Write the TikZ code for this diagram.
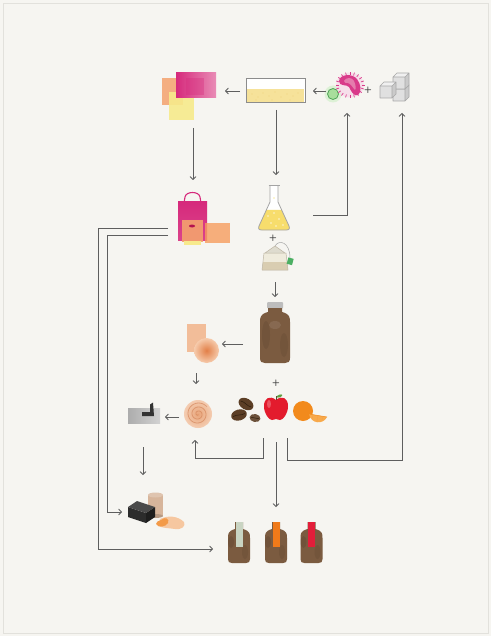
\documentclass[tikz,border=0pt]{standalone}
\usetikzlibrary{arrows.meta,calc}
\definecolor{paper}{HTML}{F6F5F1}
\definecolor{frame}{HTML}{E2E1DC}
\definecolor{linegray}{HTML}{5E5E5E}
\definecolor{plusgray}{HTML}{3E3E3E}
\definecolor{pinkA}{HTML}{D62A7C}
\definecolor{pinkB}{HTML}{E98CB6}
\definecolor{pinkdeep}{HTML}{B3124F}
\definecolor{peach}{HTML}{F4A26E}
\definecolor{lemon}{HTML}{F7EA8C}
\definecolor{dishedge}{HTML}{8C8C8C}
\definecolor{dishfill}{HTML}{F6E29A}
\definecolor{cellgreen}{HTML}{A8DE9C}
\definecolor{cellline}{HTML}{4FA557}
\definecolor{cellglow}{HTML}{CDEFC5}
\definecolor{bact}{HTML}{D93A8A}
\definecolor{cubeF}{HTML}{E0E0E0}
\definecolor{cubeT}{HTML}{F0F0F0}
\definecolor{cubeS}{HTML}{CACACA}
\definecolor{cubeE}{HTML}{A8A8A8}
\definecolor{flaskedge}{HTML}{A4A4A4}
\definecolor{flaskyellow}{HTML}{F7DD6C}
\definecolor{teacloth}{HTML}{EFEBDC}
\definecolor{teatan}{HTML}{D9CDB1}
\definecolor{teaedge}{HTML}{BDB5A3}
\definecolor{teagreen}{HTML}{4CAF63}
\definecolor{capgray}{HTML}{BDBDBD}
\definecolor{brewbrown}{HTML}{7B5B40}
\definecolor{brewdark}{HTML}{5E4430}
\definecolor{scobysq}{HTML}{F2B790}
\definecolor{scobyin}{HTML}{E27F48}
\definecolor{scobyout}{HTML}{F6CBAC}
\definecolor{rollin}{HTML}{E9A57A}
\definecolor{rollout}{HTML}{F4CDB2}
\definecolor{rollline}{HTML}{D07E52}
\definecolor{bean}{HTML}{5C3E25}
\definecolor{beandark}{HTML}{33210F}
\definecolor{applered}{HTML}{E31B2D}
\definecolor{leafgreen}{HTML}{5FA043}
\definecolor{orangefruit}{HTML}{F28A1C}
\definecolor{orangeslice}{HTML}{F8AA4C}
\definecolor{boxtop}{HTML}{4A4A4A}
\definecolor{boxfront}{HTML}{2C2C2C}
\definecolor{boxside}{HTML}{1E1E1E}
\definecolor{tube}{HTML}{D7B59B}
\definecolor{sheetpeach}{HTML}{F6C7A0}
\definecolor{sheetorange}{HTML}{F39A48}
\definecolor{labelpale}{HTML}{C9D4C2}
\definecolor{labelorange}{HTML}{F07A1A}
\definecolor{labelred}{HTML}{E31E3A}

\tikzset{
  sugarcube/.pic={
    \fill[cubeF] (0,0) rectangle (12,12);
    \fill[cubeT] (0,0) -- (4,-4) -- (16,-4) -- (12,0) -- cycle;
    \fill[cubeS] (12,0) -- (16,-4) -- (16,8) -- (12,12) -- cycle;
    \draw[cubeE, line width=.6pt, line join=round]
      (0,0) rectangle (12,12) (0,0) -- (4,-4) -- (16,-4) -- (16,8) -- (12,12) (12,0) -- (16,-4);
  },
  jar/.pic={
    \fill[brewbrown] (-4,0) -- (4,0) -- (4,7) .. controls (11,9) and (11,12) .. (11,16)
      -- (11,37) .. controls (11,40) and (10,41) .. (7,41) -- (-7,41)
      .. controls (-10,41) and (-11,40) .. (-11,37) -- (-11,16)
      .. controls (-11,12) and (-11,9) .. (-4,7) -- cycle;
    \fill[brewdark, opacity=.35] (-8,20) ellipse (3 and 6);
    \fill[brewdark, opacity=.25] (6,30) ellipse (3 and 7);
    \fill[#1] (-3.5,0) rectangle (3.5,25);
  }
}

\begin{document}
\begin{tikzpicture}[x=1pt,y=-1pt,
  zone/.style 2 args={rectangle,draw=none,inner sep=0pt,outer sep=0pt,
    minimum width=#1pt,minimum height=#2pt},
  conn/.style={draw=linegray,line width=0.85pt,line join=miter,
    -{Straight Barb[length=2.8pt,width=6pt]}},
  plus/.style={text=plusgray,font=\sffamily\bfseries\small,inner sep=0pt}]

% sheet and frame
\fill[paper] (0,0) rectangle (491,636);
\draw[frame, line width=0.8pt] (3,3) rectangle (488,633);
\useasboundingbox (0,0) rectangle (491,636);

% ---------- zones around each icon ----------
\node[zone={54}{47}] (rects) at (189,96.5) {};
\node[zone={59}{24}] (petri) at (275.5,91) {};
\node[zone={12}{12}] (cell) at (333,94) {};
\node[zone={28}{26}] (bact) at (350,85) {};
\node[zone={30}{30}] (sugar) at (395,89) {};
\node[zone={52}{52}] (bag) at (204,219) {};
\node[zone={32}{45}] (flask) at (274,207.5) {};
\node[zone={30}{26}] (teabag) at (275,258) {};
\node[zone={30}{61}] (bottle) at (275,332.5) {};
\node[zone={32}{39}] (scoby) at (203,343.5) {};
\node[zone={28}{28}] (roll) at (198,414) {};
\node[zone={32}{21}] (sheet) at (144,412.5) {};
\node[zone={90}{28}] (fruits) at (276,409) {};
\node[zone={55}{37}] (kit) at (155.5,511.5) {};
\node[zone={94}{41}] (bottles) at (275,542.5) {};

% ---------- coloured sheets ----------
\fill[peach, opacity=.85] (162,78) rectangle (183,105);
\fill[lemon, opacity=.9] (169,92) rectangle (194,120);
\shade[left color=pinkA, right color=pinkB] (176,73) rectangle (216,98);
\fill[pinkA, opacity=.35] (186,78) rectangle (204,95);

% ---------- petri dish ----------
\fill[white] (246,79) rectangle (305,103);
\fill[dishfill] (247,89) rectangle (304,102);
\foreach \px/\py in {252/94,258/97,263/93,269/96,275/92,281/97,287/94,293/96,298/93,256/100,272/100,290/100}
  \fill[flaskyellow!70!brown, opacity=.5] (\px,\py) circle (0.7);
\draw[dishedge, line width=1pt] (246,79) rectangle (305,103);

% ---------- cell ----------
\fill[cellglow, opacity=.6] (333,94) circle (8.5);
\fill[cellgreen] (333,94) circle (5.5);
\draw[cellline, line width=0.8pt] (333,94) circle (5.5);

% ---------- bacterium ----------
\begin{scope}[shift={(350,85)}]
  \fill[bact!20, opacity=.7] (0,0) ellipse (14 and 12.5);
  \foreach \a in {0,18,...,342}
    \draw[bact, line width=.7pt] (\a:11.5 and 10) -- (\a:14.5 and 13);
  \fill[bact] (-11,-4) .. controls (-10,-11) and (2,-12) .. (7,-6)
    .. controls (11,-1) and (12,7) .. (8,10)
    .. controls (4,12) and (1,6) .. (-1,2)
    .. controls (-3,-1) and (-11,2) .. (-11,-4) -- cycle;
  \fill[pinkB, opacity=.8] (-6,-4) .. controls (-4,-8) and (2,-8) .. (4,-4)
    .. controls (6,0) and (6,4) .. (5,5) .. controls (3,3) and (1,-1) .. (-2,-2)
    .. controls (-4,-2) and (-6,-2) .. (-6,-4) -- cycle;
\end{scope}
\node[plus] (plusA) at (368,90) {+};

% ---------- sugar cubes ----------
\pic at (393,89) {sugarcube};
\pic at (393,77) {sugarcube};
\pic at (380,86) {sugarcube};

% ---------- bag ----------
\draw[pinkA, line width=1.1pt] (184,203) -- (185,197) .. controls (186,191) and (199,191) .. (200,197) -- (201,203);
\shade[top color=pinkA, bottom color=pinkA!75!pinkB] (178,202) rectangle (207,240);
\fill[peach, opacity=.9] (182,220) rectangle (203,242);
\fill[pinkdeep] (192,226) ellipse (3 and 1.5);
\fill[peach!85!orange, opacity=.8] (205,223) rectangle (230,243);
\fill[lemon] (184,241) rectangle (201,245);

% ---------- flask ----------
\fill[white] (270,186) -- (270,202) -- (259,226) .. controls (258,229) and (259,230) .. (262,230)
  -- (286,230) .. controls (289,230) and (290,229) .. (289,226) -- (278,202) -- (278,186) -- cycle;
\fill[flaskyellow] (266.3,210) -- (281.7,210) -- (289,226) .. controls (290,229) and (289,230) .. (286,230)
  -- (262,230) .. controls (259,230) and (258,229) .. (259,226) -- cycle;
\foreach \px/\py in {268/216,274/213,279/219,271/223,283/225,276/226}
  \fill[white, opacity=.7] (\px,\py) circle (0.8);
\fill[flaskyellow!60] (274,198) circle (0.8);
\draw[flaskedge, line width=.8pt, line join=round] (270,186) -- (270,202) -- (259,226)
  .. controls (258,229) and (259,230) .. (262,230) -- (286,230)
  .. controls (289,230) and (290,229) .. (289,226) -- (278,202) -- (278,186);
\draw[flaskedge, line width=.8pt] (268.5,185.5) -- (279.5,185.5);
\node[plus] (plusB) at (273,238) {+};

% ---------- tea bag ----------
\draw[gray!70, line width=.5pt] (275,246) .. controls (279,239) and (290,242) .. (290,258);
\fill[teacloth] (264,253) -- (286,253) -- (288,270) -- (262,270) -- cycle;
\fill[teatan] (263.1,262) -- (286.9,262) -- (288,270) -- (262,270) -- cycle;
\fill[teacloth!85!gray] (265,253) -- (275,246) -- (285,253) -- cycle;
\draw[teaedge, line width=.5pt, line join=round] (264,253) -- (286,253) -- (288,270) -- (262,270) -- cycle
  (265,253) -- (275,246) -- (285,253);
\fill[teagreen, rotate around={-15:(290,261)}] (287.5,258) rectangle (293,264.5);

% ---------- brew bottle ----------
\fill[capgray, rounded corners=1pt] (267,302) rectangle (283,308.5);
\fill[brewbrown] (268,308) -- (282,308) -- (282,312) .. controls (290,314) and (290,318) .. (290,322)
  -- (290,358) .. controls (290,362) and (288,363) .. (285,363) -- (265,363)
  .. controls (262,363) and (260,362) .. (260,358) -- (260,322)
  .. controls (260,318) and (260,314) .. (268,312) -- cycle;
\fill[brewdark, opacity=.3] (266,335) ellipse (4 and 14);
\fill[brewdark, opacity=.25] (284,345) ellipse (4 and 12);
\fill[brewbrown!70!white, opacity=.3] (275,325) ellipse (6 and 4);

% ---------- scoby layer ----------
\fill[scobysq, opacity=.9] (187,324) rectangle (206,352);
\shade[inner color=scobyin, outer color=scobyout] (206.5,350.5) circle (12.5);

% ---------- rolled scoby ----------
\shade[inner color=rollin, outer color=rollout] (198,414) circle (14);
\draw[rollline, line width=.8pt, opacity=.6, variable=\t, domain=60:1040, samples=140, smooth]
  plot ({198+\t/1040*11.5*cos(\t)}, {414+\t/1040*11.5*sin(\t)});

% ---------- pressing tool ----------
\shade[left color=gray!65, right color=gray!35] (128,408) rectangle (160,423);
\fill[black!80] (142,412) -- (150,412) -- (150,404.5) -- (153,402.5) -- (154,416) -- (142,416) -- cycle;

% ---------- fruits and beans ----------
\node[plus] (plusC) at (276,383) {+};
\begin{scope}[shift={(246,404)}, rotate=-30]
  \fill[bean] (0,0) ellipse (8 and 5.5);
  \draw[beandark, line width=.6pt] (-6,0) .. controls (-2,-1.5) and (2,1.5) .. (6,0);
\end{scope}
\begin{scope}[shift={(239,415)}, rotate=15]
  \fill[bean] (0,0) ellipse (8 and 5.5);
  \draw[beandark, line width=.6pt] (-6,0) .. controls (-2,-1.5) and (2,1.5) .. (6,0);
\end{scope}
\begin{scope}[shift={(255,418)}, rotate=-10]
  \fill[bean!90!white] (0,0) ellipse (5.5 and 4);
  \draw[beandark, line width=.5pt] (-4,0) .. controls (-1,-1) and (1,1) .. (4,0);
\end{scope}
% apple
\fill[applered] (276,400) .. controls (270,395) and (264,398) .. (264,406)
  .. controls (264,414) and (269,420) .. (272,420) .. controls (274,420) and (275,419) .. (276,419)
  .. controls (277,419) and (278,420) .. (280,420) .. controls (283,420) and (288,414) .. (288,406)
  .. controls (288,398) and (282,395) .. (276,400) -- cycle;
\fill[white, opacity=.25] (269,404) ellipse (2 and 4);
\draw[brewdark, line width=.7pt] (276,400) -- (276,396);
\fill[leafgreen, rotate around={20:(279.5,396)}] (279.5,396) ellipse (3 and 1.3);
% orange
\fill[orangefruit] (303,411) circle (10);
\fill[orangeslice] (309,414) .. controls (311,424) and (323,425) .. (327,417) -- cycle;
\draw[orangefruit, line width=.5pt] (309,414) -- (327,417);
\draw[orangefruit!80!white, line width=.4pt] (318,415.5) -- (317,421) (313,415) -- (312,419) (323,416.5) -- (322,420);

% ---------- dried sheet kit ----------
\fill[tube] (148,495) rectangle (163,516);
\fill[tube!80!white] (155.5,495) ellipse (7.5 and 2.5);
\fill[tube!85!black] (155.5,516) ellipse (7.5 and 2);
\fill[boxfront] (128,507) -- (146,513) -- (146,523) -- (128,517) -- cycle;
\fill[boxside] (146,513) -- (155,507) -- (155,517) -- (146,523) -- cycle;
\fill[boxtop] (128,507) -- (137,501) -- (155,507) -- (146,513) -- cycle;
\fill[sheetpeach] (160,519) .. controls (168,515) and (178,516) .. (184,522)
  .. controls (186,526) and (182,530) .. (175,529) .. controls (168,528) and (162,528) .. (158,526) -- cycle;
\fill[sheetorange] (161,520) .. controls (165,516) and (170,519) .. (168,523)
  .. controls (166,527) and (158,528) .. (156,524) .. controls (156,522) and (158,521) .. (161,520) -- cycle;

% ---------- flavoured bottles ----------
\pic at (239,522) {jar=labelpale};
\pic at (276,522) {jar=labelorange};
\pic at (311.5,522) {jar=labelred};

% ---------- connectors ----------
\draw[conn] ($(petri.west)+(-6,0)$) -- ($(rects.east |- petri.west)+(9,0)$);
\draw[conn] ($(cell.west)+(-1,-3)$) -- ($(petri.east)+(8,0)$);
\draw[conn] ($(rects.south)+(4,8)$) -- ($(bag.north)+(-11,-13)$);
\draw[conn] ($(petri.south)+(0.5,7)$) -- ($(flask.north)+(2,-10)$);
\draw[conn] ($(flask.east)+(23,7.5)$) -| ($(bact.south)+(-3,15)$);
\draw[conn] ($(teabag.south)+(0,11)$) -- ($(bottle.north)+(0,-5)$);
\draw[conn] ($(bottle.west)+(-17,11.5)$) -- ($(scoby.east)+(3,0.5)$);
\draw[conn] ($(scoby.south)+(-7,10)$) -- ($(roll.north)+(-2,-16)$);
\draw[conn] ($(roll.west)+(-5,3)$) -- ($(sheet.east)+(5,4.5)$);
\draw[conn] ($(sheet.south)+(-1,24)$) -- ($(kit.north)+(-12.5,-18)$);
\draw[conn] ($(fruits.south)+(-13,15)$) -- ++(0,20) -| ($(roll.south)+(-3,12)$);
\draw[conn] ($(fruits.south)+(0,19)$) -- ($(bottles.north)+(1,-15)$);
\draw[conn] ($(fruits.south)+(11,15)$) -- ++(0,22) -| ($(sugar.south)+(7,9)$);
\draw[conn] ($(bag.west)+(-10,16)$) -| ($(kit.west)+(-21,0.5)$) -- ($(kit.west)+(-6,0.5)$);
\draw[conn] ($(bag.west)+(-10,9)$) -| ($(bottles.west)+(-130,6.5)$) -- ($(bottles.west)+(-15,6.5)$);

\end{tikzpicture}
\end{document}
